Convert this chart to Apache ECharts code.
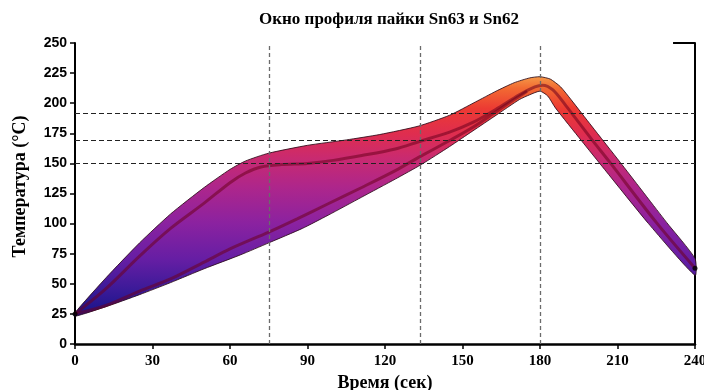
<!DOCTYPE html>
<html>
<head>
<meta charset="utf-8">
<script src="https://cdn.jsdelivr.net/npm/echarts@6/dist/echarts.min.js"></script>
<style>
  html, body { margin: 0; padding: 0; background: #fff; }
  #myChart { width: 704px; height: 390px; }
</style>
</head>
<body>
<div id="myChart"></div>
<script>
// окно профиля: верхняя граница полосы
var upperTime = [0, 12, 25, 37, 50, 60, 66, 75, 90, 105, 118, 133, 145, 155, 163, 170, 176, 180, 184, 188, 192, 200, 211, 229, 240];
var upperTemp = [26, 55, 84, 108, 130, 145, 152, 158.5, 165, 169.5, 174, 181, 190, 201, 210, 217, 221, 222, 220, 213.5, 203, 181, 151, 101, 71];

// окно профиля: нижняя граница полосы
var lowerTime = [0, 12, 25, 37, 50, 64, 75, 88, 98, 111, 124, 134, 145, 154, 163, 172, 176, 180, 183, 186, 196, 205, 222, 240];
var lowerTemp = [23, 31, 41, 51, 62.5, 74, 84, 96, 107, 122, 137, 149, 164, 177, 190, 203, 207, 210, 206, 196, 169, 145, 100, 57];

// верхний профиль (продолжается на охлаждении)
var profileATime = [0, 12, 25, 37, 50, 60, 66, 72, 80, 90, 100, 111, 124, 133, 145, 154, 163, 172, 178, 181, 185, 190, 200, 207, 225, 240];
var profileA     = [25, 46, 73, 96, 117, 134, 142, 147, 149, 150, 152.5, 156.5, 162, 168, 176, 184, 195, 207, 213.5, 215, 211, 198, 170, 151, 101, 63];

// нижний профиль
var profileBTime = [0, 12, 25, 37, 50, 60, 75, 86, 98, 111, 124, 133, 145, 154, 163, 170, 175];
var profileB     = [25, 32, 44, 54, 68, 79, 93, 104, 116.5, 130, 144, 155, 169, 180, 193, 203, 210];

// опорные линии
var timeMarks = [75, 133.5, 180];
var tempMarks = [150, 169, 192];

var xTicks = [0, 30, 60, 90, 120, 150, 180, 210, 240];
var yTicks = [0, 25, 50, 75, 100, 125, 150, 175, 200, 225, 250];

var myChart = echarts.init(document.getElementById('myChart'));

var markData = [];
timeMarks.forEach(function (t) {
  markData.push({ xAxis: t, lineStyle: { color: '#6b6b6b', type: [4, 3], width: 1.3 } });
});
tempMarks.forEach(function (v) {
  markData.push({ yAxis: v, lineStyle: { color: '#222', type: [5, 3], width: 1 } });
});
markData.push([
  { coord: [231.5, 250], lineStyle: { color: '#000', type: 'solid', width: 2 } },
  { coord: [240, 250] }
]);

var bandFill = new echarts.graphic.LinearGradient(0, 0, 0, 1, [
  { offset: 0, color: '#f59a48' },
  { offset: 0.05, color: '#f26a32' },
  { offset: 0.135, color: '#ec3a33' },
  { offset: 0.24, color: '#df2d4f' },
  { offset: 0.34, color: '#c92a70' },
  { offset: 0.46, color: '#ae268b' },
  { offset: 0.61, color: '#8b22a0' },
  { offset: 0.76, color: '#661ea4' },
  { offset: 0.89, color: '#3a1a98' },
  { offset: 1, color: '#141488' }
]);

myChart.setOption({
  animation: false,
  title: {
    text: 'Окно профиля пайки Sn63 и Sn62',
    left: 384,
    textAlign: 'center',
    top: 6,
    textStyle: {
      fontFamily: 'Liberation Serif',
      fontSize: 17,
      fontWeight: 'bold',
      color: '#000'
    }
  },
  grid: { left: 75, right: 9, top: 43, bottom: 46, outerBoundsMode: 'none' },
  xAxis: {
    type: 'value',
    min: 0,
    max: 240,
    interval: 30,
    name: 'Время (сек)',
    nameLocation: 'middle',
    nameGap: 29,
    nameTextStyle: { fontFamily: 'Liberation Serif', fontSize: 18, fontWeight: 'bold', color: '#000' },
    axisLine: { show: true, lineStyle: { color: '#000', width: 2.5 } },
    axisTick: { show: true, length: 5, lineStyle: { color: '#000', width: 1.5 } },
    axisLabel: {
      margin: 10,
      fontFamily: 'Liberation Sans Narrow',
      fontSize: 15,
      fontWeight: 'bold',
      color: '#000',
      formatter: function (v) { return xTicks.indexOf(v) >= 0 ? String(v) : ''; }
    },
    splitLine: { show: false }
  },
  yAxis: [{
    type: 'value',
    min: 0,
    max: 250,
    interval: 25,
    name: 'Температура (°C)',
    nameLocation: 'middle',
    nameGap: 46,
    nameTextStyle: {
      fontFamily: 'Liberation Serif',
      fontSize: 18,
      fontWeight: 'bold',
      color: '#000',
      padding: [0, 0, 0, 14]
    },
    axisLine: { show: true, lineStyle: { color: '#000', width: 2 } },
    axisTick: { show: true, length: 5, lineStyle: { color: '#000', width: 1.5 } },
    axisLabel: {
      margin: 8,
      fontFamily: 'Liberation Sans',
      fontSize: 14,
      fontWeight: 'bold',
      color: '#000',
      formatter: function (v) { return yTicks.indexOf(v) >= 0 ? String(v) : ''; }
    },
    splitLine: { show: false }
  }, {
    type: 'value',
    position: 'right',
    min: 0,
    max: 250,
    interval: 25,
    axisLine: { show: true, lineStyle: { color: '#000', width: 2 } },
    axisTick: { show: false },
    axisLabel: { show: false },
    splitLine: { show: false }
  }],
  series: [
    {
      type: 'custom',
      name: 'Окно',
      silent: true,
      data: [0],
      renderItem: function (params, api) {
        var pts = [];
        for (var i = 0; i < upperTime.length; i++) {
          pts.push(api.coord([upperTime[i], upperTemp[i]]));
        }
        for (var j = lowerTime.length - 1; j >= 0; j--) {
          pts.push(api.coord([lowerTime[j], lowerTemp[j]]));
        }
        return {
          type: 'polygon',
          shape: { points: pts, smooth: 0.2 },
          style: { fill: bandFill, stroke: 'rgba(45,10,25,0.85)', lineWidth: 1 }
        };
      },
      z: 2
    },
    {
      type: 'line',
      name: 'Профиль A',
      data: profileATime.map(function (t, i) { return [t, profileA[i]]; }),
      smooth: 0.3,
      showSymbol: false,
      lineStyle: { color: 'rgba(110,0,30,0.55)', width: 3 },
      z: 3
    },
    {
      type: 'line',
      name: 'Профиль B',
      data: profileBTime.map(function (t, i) { return [t, profileB[i]]; }),
      smooth: 0.3,
      showSymbol: false,
      lineStyle: { color: 'rgba(110,0,30,0.55)', width: 3 },
      markLine: {
        silent: true,
        symbol: ['none', 'none'],
        label: { show: false },
        data: markData
      },
      z: 4
    },
    {
      type: 'scatter',
      data: [[profileATime[0], profileA[0]], [profileATime[profileATime.length - 1], profileA[profileA.length - 1]]],
      symbolSize: 5,
      itemStyle: { color: '#000' },
      z: 5
    }
  ]
});
</script>
</body>
</html>
